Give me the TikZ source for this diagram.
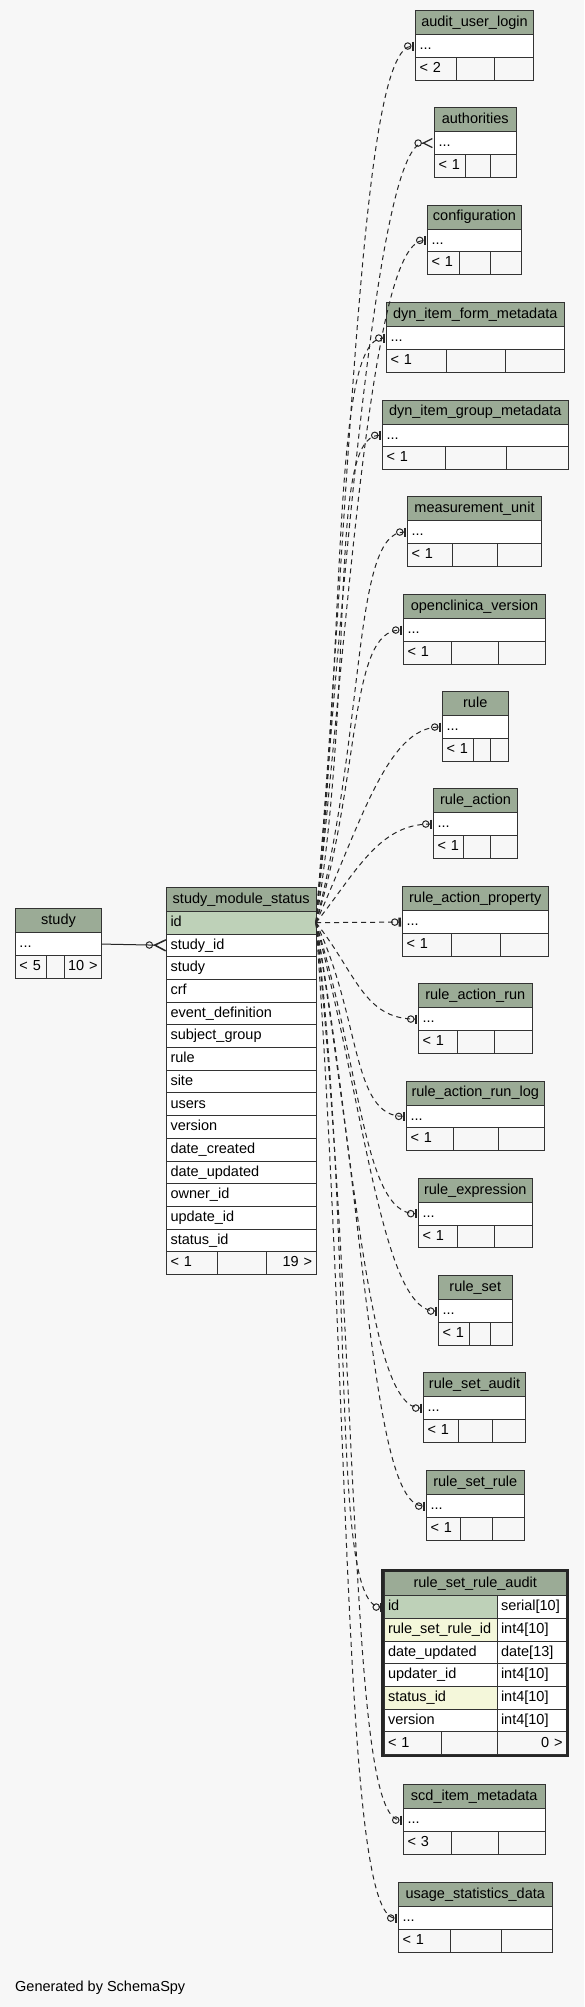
\documentclass[tikz,border=0pt]{standalone}
\usepackage{fontspec}
\setmainfont{Liberation Sans}
\usepackage{tikz}
\usetikzlibrary{arrows.meta, positioning, fit}
\definecolor{schemabg}{HTML}{F7F7F7}
\definecolor{schemahead}{HTML}{9BAB96}
\definecolor{schemakey}{HTML}{BED1B8}
\definecolor{schemaidx}{HTML}{F4F7DA}
\begin{document}
\begin{tikzpicture}[x=1pt, y=-1pt,
    tbox/.style={draw=black!80, line width=1pt, outer sep=0pt, inner xsep=4pt, inner ysep=0pt,
      minimum height=22.7pt, text height=10.5pt, text depth=3pt, font=\fontsize{14.5}{17}\selectfont},
    thead/.style={tbox, fill=schemahead, minimum height=24pt, anchor=north west},
    trow/.style={tbox, fill=white, align=left},
    tkey/.style={trow, fill=schemakey},
    tidx/.style={trow, fill=schemaidx},
    tfoot/.style={tbox, fill=schemabg, align=left},
    tcell/.style={tbox, fill=schemabg},
    focus/.style={draw=black!85, line width=2.8pt, inner sep=1.3pt},
    fk/.style={line width=1pt, black!85, -{Circle[open, length=7.5pt, width=7.5pt] Straight Barb[reversed, length=11pt, width=11pt, line width=1.5pt]}},
    implied/.style={line width=1pt, black!85, dash pattern=on 5pt off 4pt, shorten >=1.5pt,
      -{Circle[open, length=7.5pt, width=7.5pt] Bar[width=9pt, line width=2.5pt]}},
    impliedmany/.style={implied, -{Circle[open, length=7.5pt, width=7.5pt] Straight Barb[reversed, length=9pt, width=9pt, line width=1.3pt]}},
  ]
  \useasboundingbox (0,0) rectangle (584,2007);
  \fill[schemabg] (0,0) rectangle (584,2007);

  % study
  \node[thead, minimum width=86pt] (study) at (15.5,908.7) {study};
  \node[trow, text width=78pt, below=0pt of study] (study-r) {...};
  \node[tfoot, text width=23pt, below=0pt of study-r.south west, anchor=north west] (study-f1) {< 5};
  \node[tcell, minimum width=17.5pt, right=0pt of study-f1] (study-f2) {};
  \node[tfoot, text width=29.5pt, align=right, right=0pt of study-f2] (study-f3) {10 >};

  % study_module_status
  \node[thead, minimum width=149.5pt] (sms) at (166.5,887.3) {study\_module\_status};
  \node[tkey, text width=141.5pt, below=0pt of sms] (sms-id) {id};
  \node[trow, text width=141.5pt, below=0pt of sms-id] (sms-studyid) {study\_id};
  \node[trow, text width=141.5pt, below=0pt of sms-studyid] (sms-study) {study};
  \node[trow, text width=141.5pt, below=0pt of sms-study] (sms-crf) {crf};
  \node[trow, text width=141.5pt, below=0pt of sms-crf] (sms-evdef) {event\_definition};
  \node[trow, text width=141.5pt, below=0pt of sms-evdef] (sms-sgroup) {subject\_group};
  \node[trow, text width=141.5pt, below=0pt of sms-sgroup] (sms-rule) {rule};
  \node[trow, text width=141.5pt, below=0pt of sms-rule] (sms-site) {site};
  \node[trow, text width=141.5pt, below=0pt of sms-site] (sms-users) {users};
  \node[trow, text width=141.5pt, below=0pt of sms-users] (sms-ver) {version};
  \node[trow, text width=141.5pt, below=0pt of sms-ver] (sms-dcre) {date\_created};
  \node[trow, text width=141.5pt, below=0pt of sms-dcre] (sms-dupd) {date\_updated};
  \node[trow, text width=141.5pt, below=0pt of sms-dupd] (sms-owner) {owner\_id};
  \node[trow, text width=141.5pt, below=0pt of sms-owner] (sms-upd) {update\_id};
  \node[trow, text width=141.5pt, below=0pt of sms-upd] (sms-status) {status\_id};
  \node[tfoot, text width=42.5pt, below=0pt of sms-status.south west, anchor=north west] (sms-f1) {< 1};
  \node[tcell, minimum width=49.5pt, right=0pt of sms-f1] (sms-f2) {};
  \node[tfoot, text width=41.5pt, align=right, right=0pt of sms-f2] (sms-f3) {19 >};

  % referencing tables
  \node[thead, minimum width=118pt] (aul) at (415.5,10.7) {audit\_user\_login};
  \node[trow, text width=110pt, below=0pt of aul] (aul-r) {...};
  \node[tfoot, text width=110pt, below=0pt of aul-r] (aul-f) {< 2};
  \node[tcell, minimum width=38.5pt, right=40.5pt of aul-f.north west, anchor=north west] (aul-m) {};

  \node[thead, minimum width=81.5pt] (auth) at (434.5,107.7) {authorities};
  \node[trow, text width=73.5pt, below=0pt of auth] (auth-r) {...};
  \node[tfoot, text width=73.5pt, below=0pt of auth-r] (auth-f) {< 1};
  \node[tcell, minimum width=25.5pt, right=30.5pt of auth-f.north west, anchor=north west] (auth-m) {};

  \node[thead, minimum width=94pt] (conf) at (427.5,205) {configuration};
  \node[trow, text width=86pt, below=0pt of conf] (conf-r) {...};
  \node[tfoot, text width=86pt, below=0pt of conf-r] (conf-f) {< 1};
  \node[tcell, minimum width=31pt, right=32pt of conf-f.north west, anchor=north west] (conf-m) {};

  \node[thead, minimum width=177.5pt] (difm) at (386.5,302.7) {dyn\_item\_form\_metadata};
  \node[trow, text width=169.5pt, below=0pt of difm] (difm-r) {...};
  \node[tfoot, text width=169.5pt, below=0pt of difm-r] (difm-f) {< 1};
  \node[tcell, minimum width=59pt, right=60pt of difm-f.north west, anchor=north west] (difm-m) {};

  \node[thead, minimum width=185.5pt] (digm) at (382.5,400) {dyn\_item\_group\_metadata};
  \node[trow, text width=177.5pt, below=0pt of digm] (digm-r) {...};
  \node[tfoot, text width=177.5pt, below=0pt of digm-r] (digm-f) {< 1};
  \node[tcell, minimum width=61pt, right=63pt of digm-f.north west, anchor=north west] (digm-m) {};

  \node[thead, minimum width=134pt] (mu) at (407.5,496.7) {measurement\_unit};
  \node[trow, text width=126pt, below=0pt of mu] (mu-r) {...};
  \node[tfoot, text width=126pt, below=0pt of mu-r] (mu-f) {< 1};
  \node[tcell, minimum width=45pt, right=45pt of mu-f.north west, anchor=north west] (mu-m) {};

  \node[thead, minimum width=142pt] (ocv) at (403.5,594.7) {openclinica\_version};
  \node[trow, text width=134pt, below=0pt of ocv] (ocv-r) {...};
  \node[tfoot, text width=134pt, below=0pt of ocv-r] (ocv-f) {< 1};
  \node[tcell, minimum width=47pt, right=48pt of ocv-f.north west, anchor=north west] (ocv-m) {};

  \node[thead, minimum width=65.5pt] (rule) at (442.5,691.7) {rule};
  \node[trow, text width=57.5pt, below=0pt of rule] (rule-r) {...};
  \node[tfoot, text width=57.5pt, below=0pt of rule-r] (rule-f) {< 1};
  \node[tcell, minimum width=17.5pt, right=30.5pt of rule-f.north west, anchor=north west] (rule-m) {};

  \node[thead, minimum width=84pt] (ra) at (433.5,788.7) {rule\_action};
  \node[trow, text width=76pt, below=0pt of ra] (ra-r) {...};
  \node[tfoot, text width=76pt, below=0pt of ra-r] (ra-f) {< 1};
  \node[tcell, minimum width=27pt, right=30pt of ra-f.north west, anchor=north west] (ra-m) {};

  \node[thead, minimum width=145.5pt] (rap) at (402.5,886.7) {rule\_action\_property};
  \node[trow, text width=137.5pt, below=0pt of rap] (rap-r) {...};
  \node[tfoot, text width=137.5pt, below=0pt of rap-r] (rap-f) {< 1};
  \node[tcell, minimum width=49pt, right=49pt of rap-f.north west, anchor=north west] (rap-m) {};

  \node[thead, minimum width=113.5pt] (rar) at (418.5,983.7) {rule\_action\_run};
  \node[trow, text width=105.5pt, below=0pt of rar] (rar-r) {...};
  \node[tfoot, text width=105.5pt, below=0pt of rar-r] (rar-f) {< 1};
  \node[tcell, minimum width=37.5pt, right=38.5pt of rar-f.north west, anchor=north west] (rar-m) {};

  \node[thead, minimum width=137.5pt] (rarl) at (406.5,1081) {rule\_action\_run\_log};
  \node[trow, text width=129.5pt, below=0pt of rarl] (rarl-r) {...};
  \node[tfoot, text width=129.5pt, below=0pt of rarl-r] (rarl-f) {< 1};
  \node[tcell, minimum width=45.5pt, right=46.5pt of rarl-f.north west, anchor=north west] (rarl-m) {};

  \node[thead, minimum width=113.5pt] (rexp) at (418.5,1178.3) {rule\_expression};
  \node[trow, text width=105.5pt, below=0pt of rexp] (rexp-r) {...};
  \node[tfoot, text width=105.5pt, below=0pt of rexp-r] (rexp-f) {< 1};
  \node[tcell, minimum width=37.5pt, right=38.5pt of rexp-f.north west, anchor=north west] (rexp-m) {};

  \node[thead, minimum width=73.5pt] (rs) at (438.5,1275.7) {rule\_set};
  \node[trow, text width=65.5pt, below=0pt of rs] (rs-r) {...};
  \node[tfoot, text width=65.5pt, below=0pt of rs-r] (rs-f) {< 1};
  \node[tcell, minimum width=21.5pt, right=30.5pt of rs-f.north west, anchor=north west] (rs-m) {};

  \node[thead, minimum width=102pt] (rsa) at (423.5,1372.7) {rule\_set\_audit};
  \node[trow, text width=94pt, below=0pt of rsa] (rsa-r) {...};
  \node[tfoot, text width=94pt, below=0pt of rsa-r] (rsa-f) {< 1};
  \node[tcell, minimum width=33.5pt, right=35pt of rsa-f.north west, anchor=north west] (rsa-m) {};

  \node[thead, minimum width=97.5pt] (rsr) at (426.5,1470.7) {rule\_set\_rule};
  \node[trow, text width=89.5pt, below=0pt of rsr] (rsr-r) {...};
  \node[tfoot, text width=89.5pt, below=0pt of rsr-r] (rsr-f) {< 1};
  \node[tcell, minimum width=32pt, right=33.5pt of rsr-f.north west, anchor=north west] (rsr-m) {};

  % rule_set_rule_audit (focus table)
  \node[thead, minimum width=182.5pt] (rsra) at (384,1571.7) {rule\_set\_rule\_audit};
  \node[tkey, text width=105pt, below=0pt of rsra.south west, anchor=north west] (rsra-id) {id};
  \node[trow, text width=61.5pt, right=0pt of rsra-id] (rsra-idt) {serial[10]};
  \node[tidx, text width=105pt, below=0pt of rsra-id] (rsra-rsr) {rule\_set\_rule\_id};
  \node[trow, text width=61.5pt, right=0pt of rsra-rsr] (rsra-rsrt) {int4[10]};
  \node[trow, text width=105pt, below=0pt of rsra-rsr] (rsra-dupd) {date\_updated};
  \node[trow, text width=61.5pt, right=0pt of rsra-dupd] (rsra-dupdt) {date[13]};
  \node[trow, text width=105pt, below=0pt of rsra-dupd] (rsra-updr) {updater\_id};
  \node[trow, text width=61.5pt, right=0pt of rsra-updr] (rsra-updrt) {int4[10]};
  \node[tidx, text width=105pt, below=0pt of rsra-updr] (rsra-status) {status\_id};
  \node[trow, text width=61.5pt, right=0pt of rsra-status] (rsra-statust) {int4[10]};
  \node[trow, text width=105pt, below=0pt of rsra-status] (rsra-ver) {version};
  \node[trow, text width=61.5pt, right=0pt of rsra-ver] (rsra-vert) {int4[10]};
  \node[tfoot, text width=49pt, below=0pt of rsra-ver.south west, anchor=north west] (rsra-f1) {< 1};
  \node[tcell, minimum width=56pt, right=0pt of rsra-f1] (rsra-f2) {};
  \node[tfoot, text width=61.5pt, align=right, right=0pt of rsra-f2] (rsra-f3) {0 >};
  \node[focus, fit=(rsra)(rsra-f3)] (rsra-box) {};

  \node[thead, minimum width=141.5pt] (scd) at (403.5,1784.7) {scd\_item\_metadata};
  \node[trow, text width=133.5pt, below=0pt of scd] (scd-r) {...};
  \node[tfoot, text width=133.5pt, below=0pt of scd-r] (scd-f) {< 3};
  \node[tcell, minimum width=47pt, right=48pt of scd-f.north west, anchor=north west] (scd-m) {};

  \node[thead, minimum width=153.5pt] (usd) at (398.5,1882.7) {usage\_statistics\_data};
  \node[trow, text width=145.5pt, below=0pt of usd] (usd-r) {...};
  \node[tfoot, text width=145.5pt, below=0pt of usd-r] (usd-f) {< 1};
  \node[tcell, minimum width=50.5pt, right=52pt of usd-f.north west, anchor=north west] (usd-m) {};

  % relationships
  \draw[fk] (study-r.east) -- (sms-studyid.west);

  \draw[implied] (sms-id.east) .. controls +(35,-440) and +(-55,0) .. (aul-r.west);
  \draw[impliedmany] (sms-id.east) .. controls +(30,-390) and +(-55,0) .. (auth-r.west);
  \draw[implied] (sms-id.east) .. controls +(35,-340) and +(-55,0) .. (conf-r.west);
  \draw[implied] (sms-id.east) .. controls +(30,-290) and +(-55,0) .. (difm-r.west);
  \draw[implied] (sms-id.east) .. controls +(40,-245) and +(-55,0) .. (digm-r.west);
  \draw[implied] (sms-id.east) .. controls +(50,-195) and +(-55,0) .. (mu-r.west);
  \draw[implied] (sms-id.east) .. controls +(45,-145) and +(-55,0) .. (ocv-r.west);
  \draw[implied] (sms-id.east) .. controls +(45,-100) and +(-55,0) .. (rule-r.west);
  \draw[implied] (sms-id.east) .. controls +(40,-50) and +(-55,0) .. (ra-r.west);
  \draw[implied] (sms-id.east) -- (rap-r.west);
  \draw[implied] (sms-id.east) .. controls +(40,50) and +(-55,0) .. (rar-r.west);
  \draw[implied] (sms-id.east) .. controls +(45,95) and +(-55,0) .. (rarl-r.west);
  \draw[implied] (sms-id.east) .. controls +(45,145) and +(-55,0) .. (rexp-r.west);
  \draw[implied] (sms-id.east) .. controls +(50,195) and +(-55,0) .. (rs-r.west);
  \draw[implied] (sms-id.east) .. controls +(40,245) and +(-55,0) .. (rsa-r.west);
  \draw[implied] (sms-id.east) .. controls +(50,290) and +(-55,0) .. (rsr-r.west);
  \draw[implied] (sms-id.east) .. controls +(40,340) and +(-55,0) .. (rsra-id.west);
  \draw[implied] (sms-id.east) .. controls +(45,450) and +(-55,0) .. (scd-r.west);
  \draw[implied] (sms-id.east) .. controls +(35,500) and +(-55,0) .. (usd-r.west);

  \node[anchor=west, inner sep=0pt, font=\fontsize{14.5}{17}\selectfont] (gen) at (15,1988) {Generated by SchemaSpy};
\end{tikzpicture}
\end{document}
